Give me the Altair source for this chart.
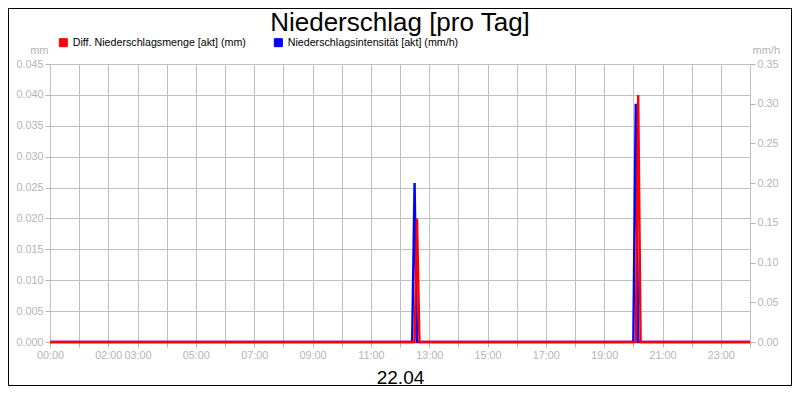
import altair as alt
import pandas as pd

# ---- data ----
title_text = "Niederschlag [pro Tag]"
date_label = "22.04"
series_names = ["Diff. Niederschlagsmenge [akt] (mm)", "Niederschlagsintensität [akt] (mm/h)"]
series_colors = ["#ff0000", "#0000ff"]

menge_times = ["00:00", "12:30", "12:35", "12:40", "20:05", "20:10", "20:15", "24:00"]
menge_values = [0.0, 0.0, 0.020, 0.0, 0.0, 0.040, 0.0, 0.0]

intens_times = ["00:00", "12:25", "12:30", "12:35", "20:00", "20:05", "20:10", "24:00"]
intens_values = [0.0, 0.0, 0.20, 0.0, 0.0, 0.30, 0.0, 0.0]

hour_ticks = list(range(0, 25))
hour_labels = [0, 2, 3, 5, 7, 9, 11, 13, 15, 17, 19, 21, 23]
left_ticks = [0.000, 0.005, 0.010, 0.015, 0.020, 0.025, 0.030, 0.035, 0.040, 0.045]
right_ticks = [0.00, 0.05, 0.10, 0.15, 0.20, 0.25, 0.30, 0.35]


def to_hours(t):
    h, m = t.split(":")
    return int(h) + int(m) / 60.0


df_menge = pd.DataFrame({
    "hour": [to_hours(t) for t in menge_times],
    "value": menge_values,
    "series": series_names[0],
})
df_int = pd.DataFrame({
    "hour": [to_hours(t) for t in intens_times],
    "value": intens_values,
    "series": series_names[1],
})
df_legend = pd.DataFrame({"series": series_names})

FONT = "Liberation Sans"
GRAY = "#b4b4b4"
GRID = "#c0c0c0"

label_list = ",".join(str(h) for h in hour_labels)
label_expr = (
    f"indexof([{label_list}], datum.value) >= 0 ? "
    "((datum.value < 10 ? '0' : '') + datum.value + ':00') : ''"
)

x_enc = alt.X(
    "hour:Q",
    scale=alt.Scale(domain=[0, 24], nice=False, zero=False),
    axis=alt.Axis(
        values=hour_ticks, labelExpr=label_expr, grid=True, gridColor=GRID, title=date_label,
        titleFontSize=19, titleColor="black", titleFont=FONT, titleFontWeight="normal",
        titleX=350, titleY=41, titleAlign="center", titleBaseline="alphabetic",
        labelFlush=False, labelPadding=2, labelColor=GRAY, labelFont=FONT, labelFontSize=10.8,
        tickColor=GRAY, tickSize=5, domain=False,
    ),
)

stroke_enc = alt.Stroke(
    "series:N",
    scale=alt.Scale(domain=series_names, range=series_colors),
    legend=None,
)

blue = alt.Chart(df_int).mark_line(strokeWidth=2.4).encode(
    x=x_enc,
    y=alt.Y(
        "value:Q",
        scale=alt.Scale(domain=[0, 0.35], nice=False),
        axis=alt.Axis(
            orient="right", values=right_ticks, format=".2f", grid=False, title="mm/h",
            titleAngle=0, titleX=2, titleY=-11, titleAlign="left", titleBaseline="alphabetic",
            titleColor=GRAY, titleFontSize=11, titleFont=FONT, titleFontWeight="normal",
            labelFlush=False, labelPadding=2, labelColor=GRAY, labelFont=FONT, labelFontSize=10.8,
            tickColor=GRAY, tickSize=5, domain=False,
        ),
    ),
    stroke=stroke_enc,
)

red = alt.Chart(df_menge).mark_line(strokeWidth=2.4).encode(
    x=x_enc,
    y=alt.Y(
        "value:Q",
        scale=alt.Scale(domain=[0, 0.045], nice=False),
        axis=alt.Axis(
            orient="left", values=left_ticks, format=".3f", grid=True, gridColor=GRID, title="mm",
            titleAngle=0, titleX=-2, titleY=-11, titleAlign="right", titleBaseline="alphabetic",
            titleColor=GRAY, titleFontSize=11, titleFont=FONT, titleFontWeight="normal",
            labelFlush=False, labelPadding=2, labelColor=GRAY, labelFont=FONT, labelFontSize=10.8,
            tickColor=GRAY, tickSize=5, domain=False,
        ),
    ),
    stroke=stroke_enc,
)

# legend driven by an invisible filled-square layer (fill channel)
legend_layer = alt.Chart(df_legend).mark_square(opacity=0, size=1).encode(
    fill=alt.Fill(
        "series:N",
        scale=alt.Scale(domain=series_names, range=series_colors),
        legend=alt.Legend(
            title=None, orient="none", direction="horizontal", legendX=8, legendY=-27,
            symbolType="square", symbolSize=64, symbolStrokeColor="black", symbolStrokeWidth=1,
            symbolOpacity=1, labelFont=FONT, labelFontSize=10.7, labelColor="black",
            labelOffset=4, labelLimit=0, columnPadding=26, padding=0,
        ),
    ),
)

title_layer = alt.Chart(alt.Data(values=[{"t": title_text}])).mark_text(
    font=FONT, fontSize=26, color="black", align="center", baseline="alphabetic"
).encode(text="t:N", x=alt.value(350), y=alt.value(-33))

frame = alt.Chart(alt.Data(values=[{}])).mark_rect(
    fillOpacity=0, stroke="black", strokeWidth=1
).encode(
    x=alt.value(-41.5), x2=alt.value(741.5), y=alt.value(-55.5), y2=alt.value(321.5)
)

chart = alt.layer(legend_layer, blue, red, title_layer, frame).resolve_scale(
    y="independent"
).properties(
    width=700,
    height=278,
    padding={"left": 42, "top": 56, "right": 42, "bottom": 44},
    autosize=alt.AutoSizeParams(type="none"),
).configure_view(
    stroke="black", strokeWidth=1
).configure(background="white")

chart.save("out.html", embed_options={"renderer": "svg", "actions": False})
